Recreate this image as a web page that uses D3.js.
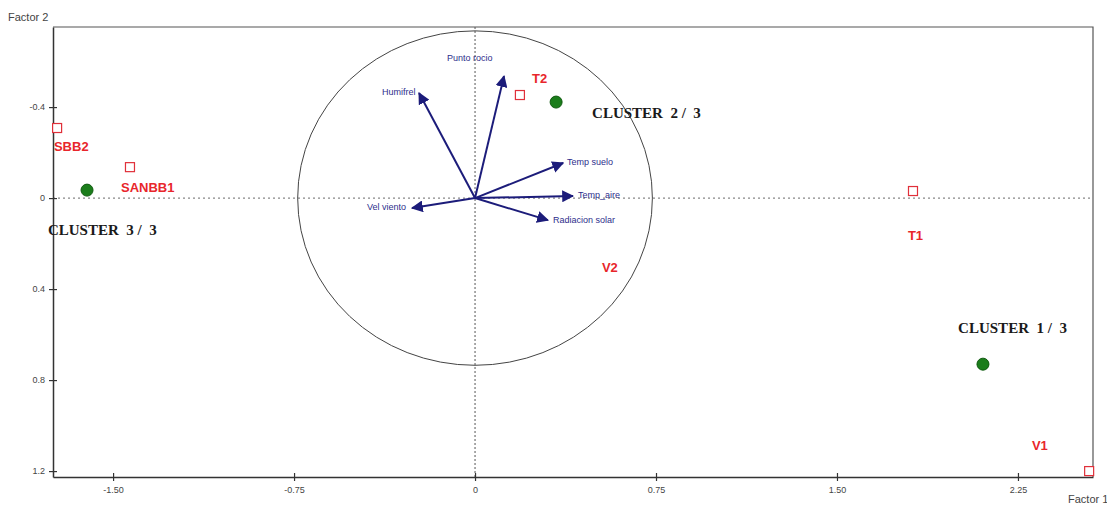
<!DOCTYPE html>
<html><head><meta charset="utf-8">
<script src="https://cdn.jsdelivr.net/npm/d3@7"></script>
<style>body{margin:0;background:#fff}svg{display:block}</style>
</head><body>
<svg id="c" width="1107" height="506"></svg>
<script>
// Variables (loadings)
const varNames = ["Humifrel","Punto rocio","Temp suelo","Temp_aire","Radiacion solar","Vel viento"];
const varX = [-0.232, 0.120, 0.365, 0.406, 0.302, -0.261];
const varY = [-0.462, -0.536, -0.154, -0.009, 0.097, 0.044];
// Observations
const obsNames = ["SBB2","SANBB1","T2","T1","V2","V1"];
const obsX = [-1.732, -1.430, 0.186, 1.815, null, 2.545];
const obsY = [-0.308, -0.136, -0.453, -0.031, null, 1.200];
const obsLabelX = [-1.745, -1.467, 0.236, 1.794, 0.526, 2.308];
const obsLabelY = [-0.220, -0.040, -0.523, 0.167, 0.308, 1.094];
// Clusters
const clusterNames = ["CLUSTER  1 /  3","CLUSTER  2 /  3","CLUSTER  3 /  3"];
const clusterX = [2.105, 0.336, -1.608];
const clusterY = [0.730, -0.422, -0.035];
const clusterLabelX = [2.002, 0.485, -1.770];
const clusterLabelY = [0.580, -0.369, 0.145];
// Axes
const xTicks = [-1.50, -0.75, 0, 0.75, 1.50, 2.25];
const xTickLabels = ["-1.50","-0.75","0","0.75","1.50","2.25"];
const yTicks = [-0.4, 0, 0.4, 0.8, 1.2];
const yTickLabels = ["-0.4","0","0.4","0.8","1.2"];
const circleR = 0.735;

const svg = d3.select("#c");
const L=53, R=1093, T=27, B=477;
const x = d3.scaleLinear().domain([-1.749, 2.561]).range([L, R]);
const y = d3.scaleLinear().domain([-0.752, 1.226]).range([T, B]);

svg.append("defs").append("marker").attr("id","ah")
  .attr("viewBox","0 0 10 10").attr("refX",9).attr("refY",5)
  .attr("markerWidth",6).attr("markerHeight",6).attr("orient","auto")
  .append("path").attr("d","M0,0L10,5L0,10z").attr("fill","#1c1c7a");

// frame top/right
svg.append("path").attr("d",`M${L},${T}H${R}V${B}`).attr("fill","none").attr("stroke","#555").attr("stroke-width",1.2);

// dotted axes
svg.append("line").attr("x1",L).attr("x2",R).attr("y1",y(0)).attr("y2",y(0))
  .attr("stroke","#888").attr("stroke-dasharray","2,3").attr("stroke-width",1.2);
svg.append("line").attr("x1",x(0)).attr("x2",x(0)).attr("y1",T).attr("y2",B)
  .attr("stroke","#555").attr("stroke-dasharray","2,2").attr("stroke-width",1);

// correlation circle
svg.append("ellipse").attr("cx",x(0)).attr("cy",y(0))
  .attr("rx",x(circleR)-x(0)).attr("ry",y(circleR)-y(0))
  .attr("fill","none").attr("stroke","#444").attr("stroke-width",1);

// axes
const xAxis = d3.axisBottom(x).tickValues(xTicks).tickFormat((d,i)=>xTickLabels[i]).tickSizeInner(4).tickSizeOuter(0).tickPadding(6);
const gx = svg.append("g").attr("transform",`translate(0,${B})`).call(xAxis);
gx.select(".domain").attr("stroke","#333").attr("stroke-width",1.5);
gx.selectAll(".tick line").attr("y1",-4).attr("stroke","#333").attr("stroke-width",1.2);
gx.selectAll("text").attr("font-family","Arial, Liberation Sans, sans-serif").attr("font-size",9).attr("fill","#444");

const yAxis = d3.axisLeft(y).tickValues(yTicks).tickFormat((d,i)=>yTickLabels[i]).tickSizeInner(4).tickSizeOuter(0).tickPadding(4);
const gy = svg.append("g").attr("transform",`translate(${L},0)`).call(yAxis);
gy.select(".domain").attr("stroke","#333").attr("stroke-width",1.5);
gy.selectAll(".tick line").attr("x1",4).attr("stroke","#333").attr("stroke-width",1.2);
gy.selectAll("text").attr("font-family","Arial, Liberation Sans, sans-serif").attr("font-size",9).attr("fill","#444");

svg.append("text").attr("x",8).attr("y",21).text("Factor 2")
  .attr("font-family","Arial, Liberation Sans, sans-serif").attr("font-size",11).attr("fill","#444");
svg.append("text").attr("x",1068).attr("y",503).text("Factor 1")
  .attr("font-family","Arial, Liberation Sans, sans-serif").attr("font-size",11).attr("fill","#444");

// arrows
varNames.forEach((n,i)=>{
  svg.append("line").attr("x1",x(0)).attr("y1",y(0)).attr("x2",x(varX[i])).attr("y2",y(varY[i]))
    .attr("stroke","#1c1c7a").attr("stroke-width",2).attr("marker-end","url(#ah)");
});
const varLabelDX = [-37, -57, 4, 5, 5, -45];
const varLabelDY = [0, -18, 0, 0, 0, 0];
varNames.forEach((n,i)=>{
  svg.append("text").attr("x",x(varX[i])+varLabelDX[i]).attr("y",y(varY[i])+varLabelDY[i])
    .attr("dominant-baseline","middle").text(n)
    .attr("font-family","Arial, Liberation Sans, sans-serif").attr("font-size",9).attr("fill","#2e2e8c");
});

// observations
obsNames.forEach((n,i)=>{
  if (obsX[i]!==null) {
    svg.append("rect").attr("x",x(obsX[i])-4.5).attr("y",y(obsY[i])-4.5).attr("width",9).attr("height",9)
      .attr("fill","#fff").attr("stroke","#e0303a").attr("stroke-width",1.2);
  }
  svg.append("text").attr("x",x(obsLabelX[i])).attr("y",y(obsLabelY[i])).attr("dominant-baseline","middle")
    .text(n).attr("font-family","Arial, Liberation Sans, sans-serif").attr("font-weight","bold")
    .attr("font-size",13).attr("fill","#e8262b");
});

// clusters
clusterNames.forEach((n,i)=>{
  svg.append("circle").attr("cx",x(clusterX[i])).attr("cy",y(clusterY[i])).attr("r",6)
    .attr("fill","#1b7d1b").attr("stroke","#0f5a0f").attr("stroke-width",1);
  svg.append("text").attr("x",x(clusterLabelX[i])).attr("y",y(clusterLabelY[i])).attr("dominant-baseline","middle")
    .attr("xml:space","preserve").style("white-space","pre").text(n)
    .attr("font-family","Liberation Serif, Times New Roman, serif").attr("font-weight","bold")
    .attr("font-size",15).attr("fill","#1a1a1a");
});
</script>
</body></html>
